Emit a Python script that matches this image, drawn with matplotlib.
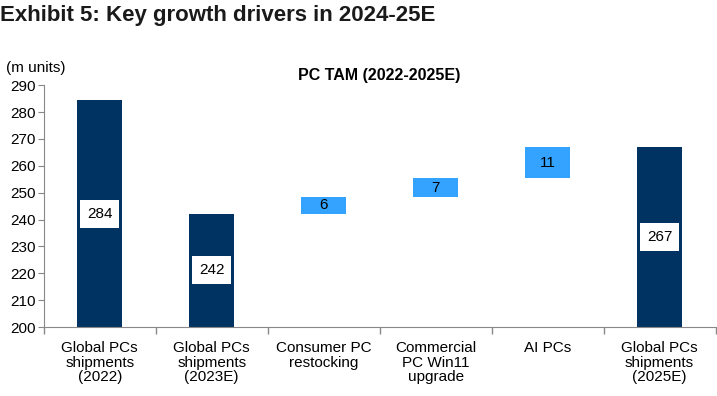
import numpy as np
import matplotlib.pyplot as plt
from matplotlib import font_manager
from matplotlib.ticker import MultipleLocator, FixedLocator

plt.rcParams['font.family'] = ['Liberation Sans', 'DejaVu Sans']

# data (m units)
categories = ["Global PCs\nshipments\n(2022)", "Global PCs\nshipments\n(2023E)",
              "Consumer PC\nrestocking", "Commercial\nPC Win11\nupgrade",
              "AI PCs", "Global PCs\nshipments\n(2025E)"]
start_2022 = 284.3
start_2023 = 242.2
drivers = [6.1, 7.2, 11.4]

navy = '#003361'
light = '#33A3FF'

names = {f.name for f in font_manager.fontManager.ttflist}
print(sorted(n for n in names if 'Narrow' in n or 'Condensed' in n))

fig = plt.figure(figsize=(7.17, 3.96), dpi=100)
ax = fig.add_axes([0.061, 0.174, 0.937, 0.611])

x = np.arange(len(categories))
w = 0.4

# totals
end_2025 = start_2023 + sum(drivers)
totals = {0: start_2022, 1: start_2023, 5: end_2025}
for i, v in totals.items():
    ax.bar(x[i], v - 200, bottom=200, width=w, color=navy, zorder=2)
    ax.text(x[i], (200 + v) / 2, f"{v:.0f}", ha='center', va='center', fontsize=11,
            bbox=dict(facecolor='white', edgecolor='none', boxstyle='square,pad=0.45'), zorder=3)

# waterfall increments
base = start_2023
for j, d in enumerate(drivers):
    i = 2 + j
    ax.bar(x[i], d, bottom=base, width=w, color=light, zorder=2)
    ax.text(x[i], base + d / 2, f"{d:.0f}", ha='center', va='center', fontsize=11, zorder=3)
    base += d

ax.set_ylim(200, 290)
ax.set_xlim(-0.5, len(categories) - 0.5)
ax.yaxis.set_major_locator(MultipleLocator(10))
ax.set_xticks(x)
ax.set_xticklabels(categories, fontsize=11, linespacing=1.05)
ax.tick_params(axis='x', length=0, pad=10)
ax.xaxis.set_minor_locator(FixedLocator(np.arange(-0.5, len(categories), 1)))
ax.tick_params(axis='x', which='minor', length=5, color='#888888', width=1)
ax.tick_params(axis='y', labelsize=11, length=4, color='#888888', pad=2)

for s in ['top', 'right']:
    ax.spines[s].set_visible(False)
for s in ['left', 'bottom']:
    ax.spines[s].set_color('#888888')

ax.set_title("PC TAM (2022-2025E)", fontsize=11.5, fontweight='bold', pad=4)
fig.text(0.009, 0.828, "(m units)", fontsize=11, ha='left', va='center')

title_fam = [f for f in ['Liberation Sans Narrow', 'DejaVu Sans Condensed'] if f in names]
title_fam = title_fam + ['Liberation Sans', 'DejaVu Sans']
fig.text(0.0, 0.962, "Exhibit 5: Key growth drivers in 2024-25E",
         family=title_fam, fontsize=16, fontweight='bold', color='#1a1a1a',
         ha='left', va='center')

fig.savefig("out.png", dpi=100)
